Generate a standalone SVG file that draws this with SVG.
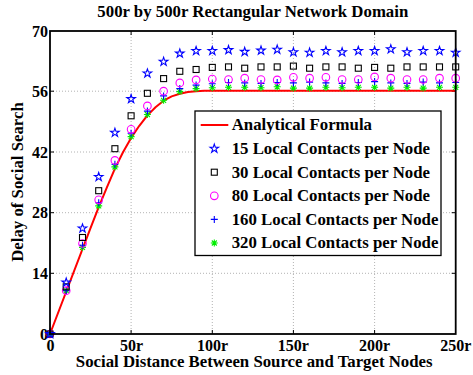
<svg xmlns="http://www.w3.org/2000/svg" xmlns:xlink="http://www.w3.org/1999/xlink" width="473" height="375" viewBox="0 0 473 375">
<style>
text{font-family:"Liberation Serif","Times New Roman",serif;font-weight:bold;font-size:16.8px;fill:#000}
.tl{font-size:16px}
.grid{stroke:#a0a0a0;stroke-width:0.8;stroke-dasharray:1 2;fill:none}
.tick{stroke:#000;stroke-width:1;fill:none}
.st{fill:none;stroke:#0000ff;stroke-width:1.1}
.sq{fill:none;stroke:#000;stroke-width:1.1}
.ci{fill:none;stroke:#ff00ff;stroke-width:1.1}
.pl{fill:none;stroke:#0000ff;stroke-width:1.1}
.as{fill:none;stroke:#00ee00;stroke-width:1.1}
</style>
<defs>
<path id="star" class="st" d="M0,-4.5 L1.02,-1.39 L4.28,-1.39 L1.64,0.53 L2.65,3.64 L0,1.72 L-2.65,3.64 L-1.64,0.53 L-4.28,-1.39 L-1.02,-1.39 Z"/>
<rect id="sqr" class="sq" x="-3" y="-3" width="6" height="6"/>
<circle id="cir" class="ci" r="3.8"/>
<path id="plus" class="pl" d="M-3.5,0 H3.5 M0,-3.5 V3.5"/>
<path id="ast" class="as" d="M-3.5,0 H3.5 M0,-3.5 V3.5 M-2.5,-2.5 L2.5,2.5 M-2.5,2.5 L2.5,-2.5"/>
</defs>
<rect width="473" height="375" fill="#fff"/>
<text x="252.8" y="17" text-anchor="middle">500r by 500r Rectangular Network Domain</text>
<g id="grid">
<path class="grid" d="M131.1,31 V334 M212.3,31 V334 M293.4,31 V334 M374.6,31 V334 M50,91.2 H455.7 M50,152 H455.7 M50,212.7 H455.7 M50,273.3 H455.7"/>
</g>
<g id="ticks">
<path class="tick" d="M131.1,334 v-4 M212.3,334 v-4 M293.4,334 v-4 M374.6,334 v-4 M131.1,31 v4 M212.3,31 v4 M293.4,31 v4 M374.6,31 v4 M50,91.2 h4 M50,152 h4 M50,212.7 h4 M50,273.3 h4 M455.7,91.2 h-4 M455.7,152 h-4 M455.7,212.7 h-4 M455.7,273.3 h-4"/>
</g>
<g id="ylabels" text-anchor="end" class="tl">
<text class="tl" x="48" y="36.6">70</text>
<text class="tl" x="48" y="96.9">56</text>
<text class="tl" x="48" y="157.6">42</text>
<text class="tl" x="48" y="218.3">28</text>
<text class="tl" x="48" y="278.9">14</text>
<text class="tl" x="48" y="339.6">0</text>
</g>
<g id="xlabels" text-anchor="middle">
<text class="tl" x="50.5" y="350.5">0</text>
<text class="tl" x="131.6" y="350.5">50r</text>
<text class="tl" x="212.6" y="350.5">100r</text>
<text class="tl" x="293.4" y="350.5">150r</text>
<text class="tl" x="374.6" y="350.5">200r</text>
<text class="tl" x="455.7" y="350.5">250r</text>
</g>
<text x="254.2" y="367" text-anchor="middle">Social Distance Between Source and Target Nodes</text>
<text transform="translate(22.8,182) rotate(-90)" text-anchor="middle">Delay of Social Search</text>
<g id="curve">
<path d="M50,334 L90.6,227.9 L98.7,207.2 L106.8,187.7 L114.9,168.6 L123,152.2 L131.1,137.9 L139.3,125.8 L147.4,115.4 L155.5,107.2 L163.6,100.7 L171.7,96.4 L179.8,93.8 L187.9,92 L196.1,91.2 L204.2,90.8 L212.3,90.7 L455.7,90.7" fill="none" stroke="#ff0000" stroke-width="2" stroke-linejoin="round"/>
</g>
<g id="s320">
<use xlink:href="#ast" x="50" y="334"/><use xlink:href="#ast" x="66.2" y="290.7"/><use xlink:href="#ast" x="82.5" y="247.4"/><use xlink:href="#ast" x="98.7" y="205.9"/><use xlink:href="#ast" x="114.9" y="166.9"/><use xlink:href="#ast" x="131.1" y="136.6"/><use xlink:href="#ast" x="147.4" y="114.5"/><use xlink:href="#ast" x="163.6" y="100.3"/><use xlink:href="#ast" x="179.8" y="91.6"/><use xlink:href="#ast" x="196.1" y="88.6"/><use xlink:href="#ast" x="212.3" y="87.7"/><use xlink:href="#ast" x="228.5" y="87.3"/><use xlink:href="#ast" x="244.7" y="87.3"/><use xlink:href="#ast" x="261" y="87.7"/><use xlink:href="#ast" x="277.2" y="86.8"/><use xlink:href="#ast" x="293.4" y="88.1"/><use xlink:href="#ast" x="309.6" y="88.1"/><use xlink:href="#ast" x="325.9" y="87.3"/><use xlink:href="#ast" x="342.1" y="87.7"/><use xlink:href="#ast" x="358.3" y="87.3"/><use xlink:href="#ast" x="374.6" y="87.3"/><use xlink:href="#ast" x="390.8" y="88.1"/><use xlink:href="#ast" x="407" y="87.3"/><use xlink:href="#ast" x="423.2" y="88.1"/><use xlink:href="#ast" x="439.5" y="87.3"/><use xlink:href="#ast" x="455.7" y="87.3"/>
</g>
<g id="s160">
<use xlink:href="#plus" x="50" y="334"/><use xlink:href="#plus" x="66.2" y="290.7"/><use xlink:href="#plus" x="82.5" y="245.3"/><use xlink:href="#plus" x="98.7" y="202.8"/><use xlink:href="#plus" x="114.9" y="164.3"/><use xlink:href="#plus" x="131.1" y="133.2"/><use xlink:href="#plus" x="147.4" y="111.1"/><use xlink:href="#plus" x="163.6" y="95.9"/><use xlink:href="#plus" x="179.8" y="88.6"/><use xlink:href="#plus" x="196.1" y="85.1"/><use xlink:href="#plus" x="212.3" y="83.8"/><use xlink:href="#plus" x="228.5" y="82.5"/><use xlink:href="#plus" x="244.7" y="82.9"/><use xlink:href="#plus" x="261" y="83.4"/><use xlink:href="#plus" x="277.2" y="82.5"/><use xlink:href="#plus" x="293.4" y="82.9"/><use xlink:href="#plus" x="309.6" y="82.1"/><use xlink:href="#plus" x="325.9" y="82.9"/><use xlink:href="#plus" x="342.1" y="83.4"/><use xlink:href="#plus" x="358.3" y="82.5"/><use xlink:href="#plus" x="374.6" y="81.6"/><use xlink:href="#plus" x="390.8" y="82.9"/><use xlink:href="#plus" x="407" y="83.4"/><use xlink:href="#plus" x="423.2" y="82.1"/><use xlink:href="#plus" x="439.5" y="82.9"/><use xlink:href="#plus" x="455.7" y="82.5"/>
</g>
<g id="s80">
<use xlink:href="#cir" x="50" y="334"/><use xlink:href="#cir" x="66.2" y="290.7"/><use xlink:href="#cir" x="82.5" y="243.5"/><use xlink:href="#cir" x="98.7" y="199.8"/><use xlink:href="#cir" x="114.9" y="160.4"/><use xlink:href="#cir" x="131.1" y="129.3"/><use xlink:href="#cir" x="147.4" y="105.9"/><use xlink:href="#cir" x="163.6" y="91.2"/><use xlink:href="#cir" x="179.8" y="82.9"/><use xlink:href="#cir" x="196.1" y="79.9"/><use xlink:href="#cir" x="212.3" y="79"/><use xlink:href="#cir" x="228.5" y="79.5"/><use xlink:href="#cir" x="244.7" y="78.2"/><use xlink:href="#cir" x="261" y="79.5"/><use xlink:href="#cir" x="277.2" y="79.9"/><use xlink:href="#cir" x="293.4" y="77.3"/><use xlink:href="#cir" x="309.6" y="78.2"/><use xlink:href="#cir" x="325.9" y="77.3"/><use xlink:href="#cir" x="342.1" y="79.5"/><use xlink:href="#cir" x="358.3" y="79.5"/><use xlink:href="#cir" x="374.6" y="76.9"/><use xlink:href="#cir" x="390.8" y="78.2"/><use xlink:href="#cir" x="407" y="79.5"/><use xlink:href="#cir" x="423.2" y="79.5"/><use xlink:href="#cir" x="439.5" y="78.2"/><use xlink:href="#cir" x="455.7" y="78.2"/>
</g>
<g id="s30">
<use xlink:href="#sqr" x="50" y="334"/><use xlink:href="#sqr" x="66.2" y="286.8"/><use xlink:href="#sqr" x="82.5" y="237.5"/><use xlink:href="#sqr" x="98.7" y="190.7"/><use xlink:href="#sqr" x="114.9" y="148.7"/><use xlink:href="#sqr" x="131.1" y="115.8"/><use xlink:href="#sqr" x="147.4" y="93.3"/><use xlink:href="#sqr" x="163.6" y="78.6"/><use xlink:href="#sqr" x="179.8" y="71.3"/><use xlink:href="#sqr" x="196.1" y="69.5"/><use xlink:href="#sqr" x="212.3" y="67.4"/><use xlink:href="#sqr" x="228.5" y="66.9"/><use xlink:href="#sqr" x="244.7" y="68.2"/><use xlink:href="#sqr" x="261" y="66.9"/><use xlink:href="#sqr" x="277.2" y="66.9"/><use xlink:href="#sqr" x="293.4" y="66.1"/><use xlink:href="#sqr" x="309.6" y="68.2"/><use xlink:href="#sqr" x="325.9" y="66.9"/><use xlink:href="#sqr" x="342.1" y="66.9"/><use xlink:href="#sqr" x="358.3" y="68.2"/><use xlink:href="#sqr" x="374.6" y="67.4"/><use xlink:href="#sqr" x="390.8" y="68.2"/><use xlink:href="#sqr" x="407" y="66.9"/><use xlink:href="#sqr" x="423.2" y="66.9"/><use xlink:href="#sqr" x="439.5" y="66.9"/><use xlink:href="#sqr" x="455.7" y="66.9"/>
</g>
<g id="s15">
<use xlink:href="#star" x="50" y="334"/><use xlink:href="#star" x="66.2" y="282.5"/><use xlink:href="#star" x="82.5" y="228.4"/><use xlink:href="#star" x="98.7" y="176.9"/><use xlink:href="#star" x="114.9" y="132.7"/><use xlink:href="#star" x="131.1" y="99"/><use xlink:href="#star" x="147.4" y="73.4"/><use xlink:href="#star" x="163.6" y="61.7"/><use xlink:href="#star" x="179.8" y="53.5"/><use xlink:href="#star" x="196.1" y="50.9"/><use xlink:href="#star" x="212.3" y="50.9"/><use xlink:href="#star" x="228.5" y="50"/><use xlink:href="#star" x="244.7" y="51.8"/><use xlink:href="#star" x="261" y="50.5"/><use xlink:href="#star" x="277.2" y="49.6"/><use xlink:href="#star" x="293.4" y="52.2"/><use xlink:href="#star" x="309.6" y="52.6"/><use xlink:href="#star" x="325.9" y="50.9"/><use xlink:href="#star" x="342.1" y="52.2"/><use xlink:href="#star" x="358.3" y="50.9"/><use xlink:href="#star" x="374.6" y="50.9"/><use xlink:href="#star" x="390.8" y="49.2"/><use xlink:href="#star" x="407" y="52.2"/><use xlink:href="#star" x="423.2" y="50.9"/><use xlink:href="#star" x="439.5" y="50.9"/><use xlink:href="#star" x="455.7" y="52.6"/>
</g>
<rect id="axes" x="50" y="31" width="405.7" height="303" fill="none" stroke="#000" stroke-width="1.8"/>
<g id="legend">
<rect x="195" y="111" width="246" height="144.5" fill="#fff" stroke="#000" stroke-width="1.3"/>
<line x1="200.7" y1="125" x2="228.3" y2="125" stroke="#ff0000" stroke-width="2"/>
<use xlink:href="#star" x="214.3" y="148.6"/>
<use xlink:href="#sqr" x="214.3" y="172.2"/>
<use xlink:href="#cir" x="214.3" y="195.8"/>
<use xlink:href="#plus" x="214.3" y="219.4"/>
<use xlink:href="#ast" x="214.3" y="243"/>
<text x="231.7" y="130.3">Analytical Formula</text>
<text x="231.7" y="153.9">15 Local Contacts per Node</text>
<text x="231.7" y="177.5">30 Local Contacts per Node</text>
<text x="231.7" y="201.1">80 Local Contacts per Node</text>
<text x="231.7" y="224.7">160 Local Contacts per Node</text>
<text x="231.7" y="248.3">320 Local Contacts per Node</text>
</g>
</svg>
